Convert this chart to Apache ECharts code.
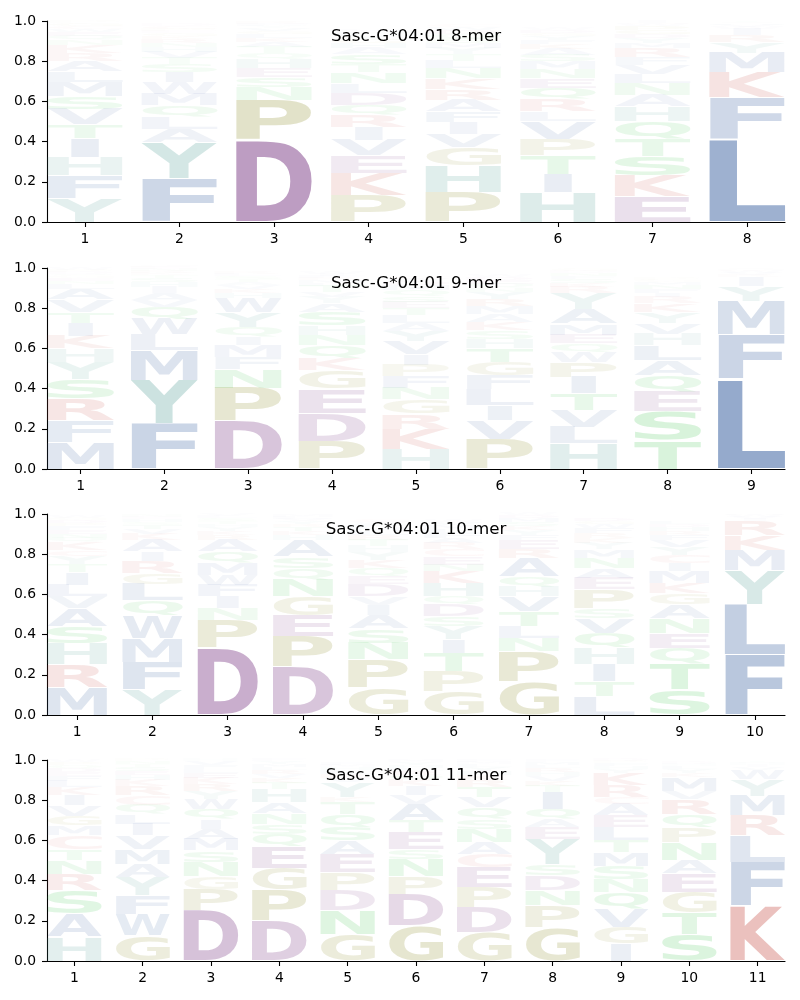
<!DOCTYPE html>
<html><head><meta charset="utf-8">
<script src="https://cdn.jsdelivr.net/npm/echarts@6/dist/echarts.min.js"></script>
<style>html,body{margin:0;padding:0;background:#fff}#c{width:800px;height:1000px}</style>
</head><body><div id="c"></div>
<script>
const titles = ['Sasc-G*04:01 8-mer','Sasc-G*04:01 9-mer','Sasc-G*04:01 10-mer','Sasc-G*04:01 11-mer'];
const yTicks = [0, 0.2, 0.4, 0.6, 0.8, 1.0];

// each column: letters bottom -> top, with their heights
const mer8Letters = ["YFHITVSMLARKNQEWCGP","FYALQMWISTVHNRKGEPCD","DPNSEHQTAKLGVYFR","PKEVIRQDLNTSAHGYFM",
  "PHGVIFARKNLTYMSQDWC","HITPVLRQENMSAKFYGDW","EKSTQHANLVFRMYDGPWCI","LFKMYRIWVHAT"];
const mer8Values = [
  [.12,.11,.09,.095,.07,.077,.065,.07,.055,.05,.04,.04,.025,.02,.02,.015,.015,.015,.01],
  [.215,.18,.068,.058,.058,.058,.058,.052,.04,.03,.03,.025,.02,.02,.015,.015,.01,.01,.015,.01],
  [.405,.2,.065,.05,.045,.045,.03,.03,.025,.02,.02,.015,.015,.01,.01,.01],
  [.133,.111,.086,.078,.063,.061,.05,.061,.047,.055,.039,.05,.03,.025,.02,.02,.015,.01],
  [.146,.133,.092,.067,.058,.054,.057,.055,.053,.05,.038,.031,.03,.025,.025,.02,.02,.015,.01],
  [.146,.093,.091,.081,.089,.049,.06,.059,.047,.045,.038,.033,.03,.025,.02,.02,.015,.015,.01],
  [.126,.103,.099,.085,.086,.075,.058,.058,.046,.045,.04,.043,.025,.025,.02,.02,.02,.01,.005,.01],
  [.413,.206,.124,.099,.055,.035,.03,.01,.01,.008,.005,.005]
];
const mer9Letters = ["MFRSYHKITVALNEGQDPW","FYMLWQVAIHSTKRNEPG","DPNFMIQYWHKVATSLR","PDEGKQNHSAYVTLMRFIW",
  "HKRGNFPIVYALTESQMDWC","PVILFGTHSKAMRYNQEDW","HLVTIPWQEMAYRKSFNDG","TSEQALHVYKRIFNMGP","LFMYIRVWKHA"];
const mer9Values = [
  [.134,.108,.108,.094,.088,.067,.063,.064,.055,.061,.055,.025,.015,.015,.01,.01,.01,.01,.01],
  [.224,.217,.149,.078,.077,.061,.035,.035,.03,.025,.02,.015,.01,.01,.01,.01,.005,.005],
  [.237,.166,.093,.061,.058,.042,.049,.075,.07,.025,.02,.02,.015,.015,.015,.01,.01],
  [.139,.14,.121,.091,.061,.063,.053,.047,.066,.042,.03,.025,.03,.015,.015,.01,.01,.01,.01],
  [.1,.1,.075,.07,.058,.058,.058,.05,.067,.05,.04,.04,.035,.03,.03,.03,.025,.02,.01,.01],
  [.148,.094,.075,.079,.07,.066,.07,.046,.042,.04,.04,.04,.035,.035,.02,.02,.02,.015,.01],
  [.126,.083,.083,.083,.083,.074,.05,.042,.044,.055,.074,.078,.03,.02,.02,.015,.015,.01,.01],
  [.143,.144,.096,.083,.075,.074,.058,.055,.053,.042,.03,.02,.02,.02,.015,.01,.01],
  [.45,.22,.165,.075,.045,.01,.01,.01,.005,.005,.005]
];
const mer10Letters = ["MRHSAVLITYCKQNEFPDGW","YFMWQLGRIAKVTSHEN","DPNIFWMQARKYHTSLV","DPEGNQSAHKTRYVLM",
  "GPNSAIVDEQKYHTRLMFWC","GPTIYSDQHKNECRAFLMVW","GPNLTVHQAREFYKSMDW","LTIHQVSPEANMYKRFWGD",
  "STQENAGKMICYVFRHDL","FLYMKRIVWH"];
const mer10Values = [
  [.139,.115,.104,.083,.089,.06,.058,.062,.04,.04,.03,.04,.02,.02,.02,.02,.015,.015,.01,.01],
  [.126,.138,.119,.113,.073,.083,.054,.059,.049,.058,.03,.025,.02,.015,.015,.01,.01],
  [.333,.141,.058,.058,.058,.05,.058,.058,.058,.025,.02,.02,.015,.015,.015,.01,.01],
  [.239,.152,.105,.094,.083,.058,.058,.083,.025,.02,.02,.015,.015,.01,.01,.01],
  [.134,.141,.083,.072,.066,.053,.041,.06,.04,.041,.04,.04,.03,.03,.025,.02,.02,.015,.01,.01],
  [.118,.099,.091,.067,.066,.049,.059,.041,.066,.059,.033,.04,.035,.03,.025,.025,.02,.02,.015,.01],
  [.167,.15,.066,.058,.075,.074,.05,.05,.091,.045,.045,.025,.025,.02,.02,.02,.015,.01],
  [.093,.074,.087,.079,.075,.075,.049,.092,.058,.049,.05,.042,.03,.025,.025,.025,.02,.015,.015],
  [.126,.128,.079,.075,.075,.066,.058,.05,.058,.041,.041,.04,.035,.025,.02,.02,.015,.015],
  [.3,.252,.166,.1,.075,.07,.01,.01,.01,.005]
];
const mer11Letters = ["HASRNTCMGVIKLFEDQPW","GWFYAMVILQCRKHESTNP","DPGNSMAIQWYRKELFVH","DPGEQSNAHTKVRLMYF",
  "GNDPEASQTKYVRLHMF","GDPNSETAVIKQRLHYM","GDPECANSQVTRKHYLMF","GPNDSYEAQITKVHRLMF",
  "IGVQNSMTLEACRKYHFPD","STGEANPQRVMKYLHD","KFLRMYWVIHAT"];
const mer11Values = [
  [.121,.116,.116,.08,.069,.055,.067,.049,.05,.05,.05,.04,.03,.025,.02,.02,.015,.015,.01],
  [.126,.108,.091,.091,.067,.074,.067,.058,.049,.046,.046,.045,.03,.025,.02,.02,.015,.015,.01],
  [.25,.108,.062,.071,.058,.058,.05,.049,.05,.05,.04,.035,.03,.025,.02,.02,.02,.01],
  [.2,.153,.108,.108,.063,.05,.053,.054,.067,.03,.025,.02,.02,.015,.015,.015,.01],
  [.134,.12,.099,.088,.091,.067,.066,.066,.058,.025,.075,.02,.02,.02,.015,.01,.01],
  [.176,.157,.087,.087,.05,.083,.058,.083,.045,.045,.03,.025,.02,.015,.015,.015,.01],
  [.143,.124,.099,.1,.066,.058,.067,.049,.058,.05,.05,.036,.025,.02,.02,.015,.01,.01],
  [.167,.108,.075,.075,.058,.124,.058,.041,.05,.083,.03,.025,.025,.02,.02,.015,.015,.01],
  [.085,.082,.092,.083,.066,.066,.067,.061,.063,.058,.058,.033,.06,.06,.02,.015,.015,.01,.01],
  [.134,.108,.1,.094,.066,.088,.075,.066,.075,.041,.067,.02,.02,.015,.01,.01],
  [.275,.218,.133,.098,.098,.082,.045,.015,.01,.01,.005,.005]
];

const panels = [
  [mer8Letters, mer8Values], [mer9Letters, mer9Values],
  [mer10Letters, mer10Values], [mer11Letters, mer11Values]
];

const AA = 'ACDEFGHIKLMNPQRSTVWY';
const BLUE = '#4a6ea8', RED = '#c85048', PURPLE = '#82448a', OLIVE = '#909030', TEAL = '#4a9a90', GREEN = '#30c040', PINK = '#e07070';
const COLORS = {A:BLUE,F:BLUE,I:BLUE,L:BLUE,M:BLUE,V:BLUE,W:BLUE,K:RED,R:RED,D:PURPLE,E:PURPLE,
  P:OLIVE,G:OLIVE,H:TEAL,Y:TEAL,S:GREEN,T:GREEN,N:GREEN,Q:GREEN,C:PINK};

// glyph metrics (tight bounding box) for stretching letters into their boxes
const BASE = 100, FAMILY = 'DejaVu Sans';
const mctx = document.createElement('canvas').getContext('2d');
mctx.font = 'bold ' + BASE + 'px ' + FAMILY;
mctx.textBaseline = 'middle';
mctx.textAlign = 'left';
const METRICS = {};
for (const ch of AA) {
  const m = mctx.measureText(ch);
  METRICS[ch] = {l: m.actualBoundingBoxLeft, r: m.actualBoundingBoxRight, a: m.actualBoundingBoxAscent, d: m.actualBoundingBoxDescent};
}
const HALF = 0.4, VPAD = 0.03;

function renderItem(params, api) {
  const x = api.value(0), y0 = api.value(1), y1 = api.value(2), ch = AA[api.value(3)];
  const bl = api.coord([x - HALF, y0]), tr = api.coord([x + HALF, y1]);
  const boxW = tr[0] - bl[0];
  const boxH = bl[1] - tr[1];
  const h = boxH * (1 - VPAD);
  if (h <= 0.2) return null;
  const top = tr[1] + boxH * VPAD / 2;
  const m = METRICS[ch], mE = METRICS.E;
  const sy = h / (m.a + m.d);
  const sx = Math.min(boxW / (m.l + m.r), boxW / (mE.l + mE.r));
  const gw = (m.l + m.r) * sx;
  const left = bl[0] + (boxW - gw) / 2;
  return {
    type: 'text', silent: true,
    x: left + m.l * sx, y: top + m.a * sy, scaleX: sx, scaleY: sy,
    style: {
      text: ch, x: 0, y: 0, fontSize: BASE, fontFamily: FAMILY, fontWeight: 'bold',
      fill: COLORS[ch], opacity: Math.min(1, 1.3 * (y1 - y0)),
      align: 'left', verticalAlign: 'middle'
    }
  };
}

const tops = [21, 268, 514, 760];
const grid = [], xAxis = [], yAxis = [], series = [], title = [];
const axisFont = {color: '#000', fontSize: 13.9, fontFamily: FAMILY};
panels.forEach(([letters, values], k) => {
  const n = letters.length;
  const positions = letters.map((_, j) => j + 1);
  grid.push({left: 47, right: 15, top: tops[k], height: 201, containLabel: false});
  xAxis.push({type: 'value', gridIndex: k, min: 0.6, max: n + 0.4,
    axisLine: {show: true, lineStyle: {color: '#000', width: 1.1}},
    axisTick: {show: true, customValues: positions, length: 5, lineStyle: {color: '#000', width: 1.1}},
    axisLabel: Object.assign({customValues: positions, margin: 10}, axisFont),
    splitLine: {show: false}});
  yAxis.push({type: 'value', gridIndex: k, min: 0, max: 1, interval: 0.2,
    axisLine: {show: true, lineStyle: {color: '#000', width: 1.1}},
    axisTick: {show: true, length: 5, lineStyle: {color: '#000', width: 1.1}},
    axisLabel: Object.assign({margin: 11, formatter: v => v.toFixed(1)}, axisFont),
    splitLine: {show: false}});
  const data = [];
  letters.forEach((str, j) => {
    let cum = 0;
    for (let i = 0; i < str.length; i++) {
      const v = values[j][i];
      data.push([j + 1, cum, cum + v, AA.indexOf(str[i])]);
      cum += v;
    }
  });
  series.push({type: 'custom', xAxisIndex: k, yAxisIndex: k, renderItem, data, silent: true, animation: false, clip: false});
  title.push({text: titles[k], left: 416, top: tops[k] + 6, textAlign: 'center', padding: 0,
    textStyle: {fontSize: 16.7, fontWeight: 'normal', fontFamily: FAMILY, color: '#000', lineHeight: 20}});
});

const chart = echarts.init(document.getElementById('c'), null, {renderer: 'canvas'});
chart.setOption({animation: false, backgroundColor: '#fff', title, grid, xAxis, yAxis, series});
</script></body></html>
